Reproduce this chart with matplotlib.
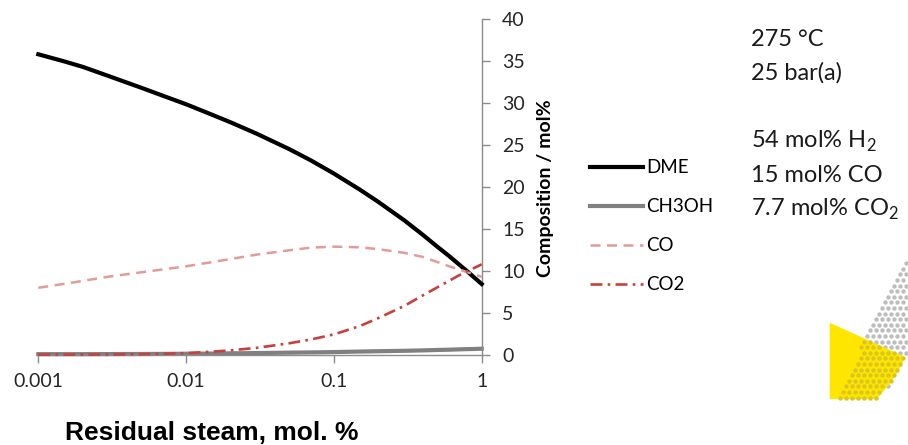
import numpy as np
import matplotlib
matplotlib.use("Agg")
import matplotlib.pyplot as plt
from matplotlib.path import Path
from matplotlib.patches import PathPatch

# Equilibrium composition vs residual steam (275 °C, 25 bar(a))
steam = [0.001, 0.0015, 0.002, 0.003, 0.005, 0.007, 0.01, 0.015, 0.02, 0.03,
         0.05, 0.07, 0.1, 0.15, 0.2, 0.3, 0.4, 0.5, 0.6, 0.7, 0.8, 0.9, 1.0]
dme = [35.8, 34.95, 34.3, 33.2, 31.8, 30.85, 29.85, 28.6, 27.7, 26.35,
       24.5, 23.16, 21.6, 19.68, 18.22, 16.02, 14.3, 12.9, 11.8, 10.8, 9.95,
       9.15, 8.45]
ch3oh = [0.10, 0.10, 0.10, 0.11, 0.12, 0.13, 0.15, 0.17, 0.20, 0.23,
         0.28, 0.31, 0.35, 0.41, 0.45, 0.50, 0.55, 0.60, 0.63, 0.67, 0.70,
         0.72, 0.75]
co = [8.0, 8.47, 8.82, 9.33, 9.85, 10.19, 10.56, 11.06, 11.43, 11.95,
      12.47, 12.78, 12.9, 12.82, 12.6, 12.16, 11.67, 11.07, 10.57, 10.19,
      9.86, 9.57, 9.3]
co2 = [0.05, 0.05, 0.05, 0.06, 0.10, 0.15, 0.22, 0.40, 0.55, 0.85,
       1.4, 1.85, 2.45, 3.45, 4.4, 5.85, 7.1, 8.05, 8.82, 9.47, 10.0,
       10.4, 10.8]

x_ticks = [0.001, 0.01, 0.1, 1]
x_tick_labels = ["0.001", "0.01", "0.1", "1"]
y_ticks = [0, 5, 10, 15, 20, 25, 30, 35, 40]

conditions = ["275 °C", "25 bar(a)"]
feed = ["54 mol% H$_\\mathregular{2}$", "15 mol% CO", "7.7 mol% CO$_\\mathregular{2}$"]

plt.rcParams["font.family"] = ["Lato", "DejaVu Sans"]
plt.rcParams["mathtext.fontset"] = "custom"
plt.rcParams["mathtext.rm"] = "Lato"

W, H = 908, 445
fig = plt.figure(figsize=(W / 100, H / 100), dpi=100)


def fx(px):
    return px / W


def fy(py):
    return 1 - py / H


ax = fig.add_axes([fx(38.3), fy(355), fx(481.7) - fx(38.3), fy(19) - fy(355)])

l_ch3oh, = ax.plot(steam, ch3oh, color="#808080", lw=3.0, label="CH3OH",
                   clip_on=False, zorder=2)
l_dme, = ax.plot(steam, dme, color="black", lw=3.0, label="DME",
                 clip_on=False, zorder=3)
l_co, = ax.plot(steam, co, color="#E09C9B", lw=1.8, dashes=(4, 2.6),
                label="CO", clip_on=False, zorder=4)
l_co2, = ax.plot(steam, co2, color="#C8403D", lw=1.9, dashes=(4.5, 2, 1, 2),
                 label="CO2", clip_on=False, zorder=5)

ax.set_xscale("log")
ax.set_xlim(0.001, 1)
ax.set_ylim(0, 40)

axis_grey = "#8C8C8C"
for side in ("top", "left"):
    ax.spines[side].set_visible(False)
for side in ("right", "bottom"):
    ax.spines[side].set_color(axis_grey)
    ax.spines[side].set_linewidth(1.0)

ax.set_xticks(x_ticks)
ax.set_xticklabels(x_tick_labels)
ax.xaxis.set_minor_locator(matplotlib.ticker.NullLocator())
ax.yaxis.tick_right()
ax.set_yticks(y_ticks)
ax.tick_params(axis="both", direction="out", length=5.8, width=1.0,
               color=axis_grey, labelsize=14, labelcolor="#262626")
ax.tick_params(axis="y", pad=9)
ax.tick_params(axis="x", pad=7)

fig.text(fx(546), fy(188), "Composition / mol%", rotation=90, ha="center",
         va="center", fontsize=14, fontweight="bold", color="black")

fig.text(fx(65), fy(440), "Residual steam, mol. %", ha="left",
         va="baseline", fontsize=19, fontweight="bold", color="black",
         family="Liberation Sans")

ax.legend([l_dme, l_ch3oh, l_co, l_co2], ["DME", "CH3OH", "CO", "CO2"],
          loc="center left", bbox_to_anchor=(fx(590), fy(226.3)),
          bbox_transform=fig.transFigure, frameon=False, fontsize=13.5,
          handlelength=2.8, handletextpad=0.2, labelspacing=1.17,
          borderpad=0, borderaxespad=0)

for text, base in zip(conditions, [45.7, 79.7]):
    fig.text(fx(751), fy(base), text, ha="left", va="baseline",
             fontsize=17, color="#1a1a1a")
for text, base in zip(feed, [147.7, 181.7, 215.7]):
    fig.text(fx(751), fy(base), text, ha="left", va="baseline",
             fontsize=17, color="#1a1a1a")

# Decorative corner graphic (pixel coordinates)
deco = fig.add_axes([0, 0, 1, 1])
deco.set_xlim(0, W)
deco.set_ylim(H, 0)
deco.axis("off")

yellow_path = Path(
    [(829.7, 322.7), (904.7, 356.7), (896.5, 379.1), (876.3, 399.0),
     (829.7, 399.0), (829.7, 322.7)],
    [Path.MOVETO, Path.LINETO, Path.CURVE3, Path.CURVE3, Path.LINETO,
     Path.CLOSEPOLY])
dot_region = Path(
    [(908, 250), (836.8, 399.0), (876.3, 399.0), (896.5, 379.1),
     (904.7, 356.7), (908, 358), (908, 250)],
    [Path.MOVETO, Path.LINETO, Path.LINETO, Path.CURVE3, Path.CURVE3,
     Path.LINETO, Path.CLOSEPOLY])

deco.add_patch(PathPatch(yellow_path, facecolor="#FFE600", edgecolor="none",
                         zorder=2))

gx, gy = np.meshgrid(np.arange(0, 30), np.arange(0, 28))
px = 908 - 2 - gx * 6.0 - (gy % 2) * 3.0
py = 252 + gy * 5.6
pts = np.column_stack([px.ravel(), py.ravel()])
inside = dot_region.contains_points(pts, radius=-1.0)
on_yellow = yellow_path.contains_points(pts)
grey_pts = pts[inside & ~on_yellow]
yel_pts = pts[inside & on_yellow]
deco.scatter(grey_pts[:, 0], grey_pts[:, 1], s=10, color="#BDBDBD",
             linewidths=0, zorder=1)
deco.scatter(yel_pts[:, 0], yel_pts[:, 1], s=10, color="#D9C61E",
             linewidths=0, zorder=3)

fig.savefig("out.png", dpi=100)
